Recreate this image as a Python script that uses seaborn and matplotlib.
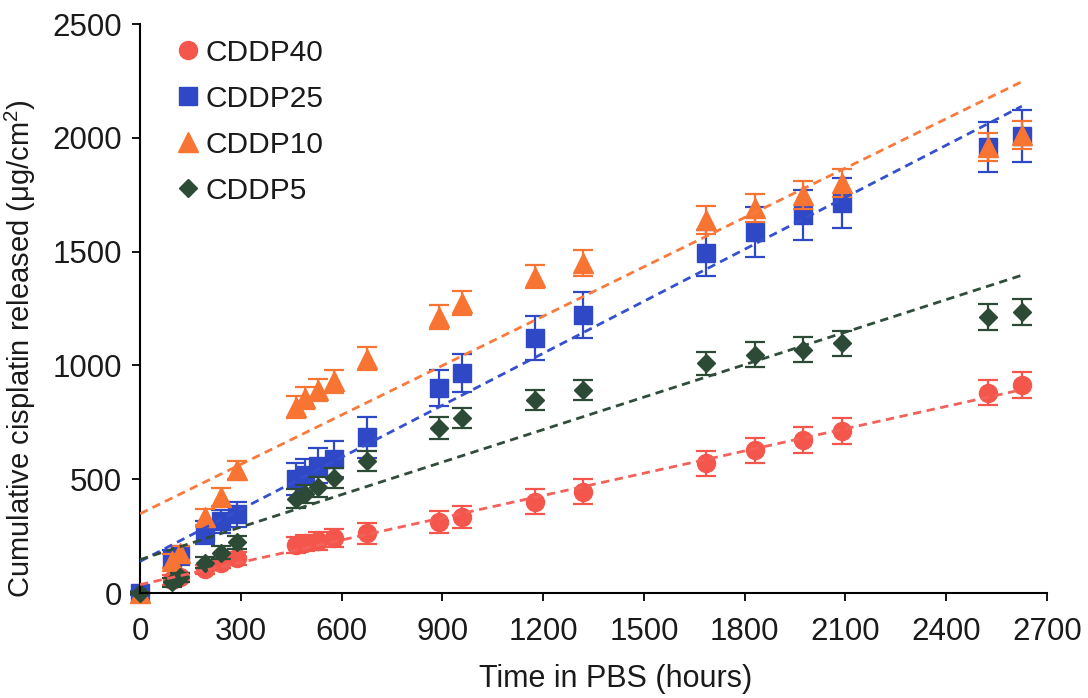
import numpy as np
import matplotlib
matplotlib.use('Agg')
import matplotlib.pyplot as plt
import seaborn as sns

# data
times = [0, 96, 120, 192, 240, 288, 465, 490, 530, 578, 675, 890, 960,
         1175, 1320, 1685, 1830, 1975, 2090, 2525, 2625]

cddp40 = [0, 57, 70, 105, 134, 152, 210, 218, 230, 242, 262, 312, 334,
          400, 444, 571, 628, 672, 712, 879, 914]
cddp25 = [0, 150, 165, 265, 315, 345, 500, 520, 560, 590, 685, 900, 967,
          1120, 1221, 1494, 1586, 1661, 1713, 1960, 2008]
cddp10 = [0, 140, 175, 334, 422, 540, 817, 857, 892, 930, 1030, 1213, 1275,
          1389, 1450, 1639, 1692, 1749, 1802, 1960, 2013]
cddp5 = [0, 48, 70, 134, 178, 222, 415, 435, 466, 505, 580, 725, 769,
         848, 892, 1010, 1046, 1068, 1098, 1213, 1235]

err40 = [5, 20, 20, 20, 25, 30, 35, 35, 40, 40, 45, 50, 50, 55, 55, 55, 55, 58, 58, 55, 55]
err25 = [10, 40, 40, 50, 50, 55, 70, 70, 75, 80, 90, 80, 85, 95, 100, 100, 110, 110, 110, 110, 115]
err10 = [5, 30, 30, 35, 40, 40, 50, 50, 50, 50, 50, 52, 52, 50, 55, 62, 62, 62, 62, 60, 60]
err5 = [5, 20, 20, 25, 30, 30, 40, 40, 45, 45, 45, 50, 45, 45, 45, 50, 55, 55, 55, 58, 58]

labels = ['CDDP40', 'CDDP25', 'CDDP10', 'CDDP5']
xticks = list(range(0, 2701, 300))
yticks = list(range(0, 2501, 500))

sns.set_style('ticks')
plt.rcParams['font.family'] = ['Liberation Sans', 'DejaVu Sans']
plt.rcParams['mathtext.default'] = 'regular'

fig = plt.figure(figsize=(10.88, 6.98), dpi=100)
ax = fig.add_axes([0.1287, 0.1504, 0.8336, 0.8152])

series = [
    (cddp40, err40, 'o', 13, '#F5564C', '#F2625A'),
    (cddp25, err25, 's', 13, '#2E48C6', '#3550CC'),
    (cddp10, err10, '^', 14, '#F87432', '#F87A3C'),
    (cddp5, err5, 'D', 9.5, '#2C4A35', '#2F4D3A'),
]

handles = []
for (vals, err, mk, ms, col, lcol), lab in zip(series, labels):
    ax.errorbar(times, vals, yerr=err, fmt='none', ecolor=col, elinewidth=1.6,
                capsize=7, capthick=1.6, zorder=2, clip_on=False)
    h, = ax.plot(times, vals, ls='none', marker=mk, ms=ms, color=col,
                 mec=col, label=lab, zorder=2, clip_on=False)
    handles.append(h)
    # linear trend line, dashed
    sns.regplot(x=np.array(times), y=np.array(vals), ax=ax, scatter=False,
                ci=None, truncate=True, color=lcol,
                line_kws=dict(ls='--', lw=2, dashes=(3, 2), zorder=3))

ax.set_xlim(0, 2700)
ax.set_ylim(0, 2500)
ax.set_xticks(xticks)
ax.set_yticks(yticks)
ax.tick_params(axis='both', labelsize=22.5, length=6, width=1.3, direction='out',
               color='black', labelcolor='#1a1a1a')
ax.tick_params(axis='x', pad=11)
ax.tick_params(axis='y', pad=7)
sns.despine(ax=ax)
for s in ['left', 'bottom']:
    ax.spines[s].set_linewidth(1.5)
    ax.spines[s].set_color('black')

ax.set_xlabel('Time in PBS (hours)', fontsize=22, color='#1a1a1a')
ax.xaxis.set_label_coords(0.524, -0.125)
ax.set_ylabel('Cumulative cisplatin released (μg/cm$^{2}$)', fontsize=21,
              color='#1a1a1a')
ax.yaxis.set_label_coords(-0.113, 0.43)

leg = ax.legend(handles=handles, loc='upper left', bbox_to_anchor=(0.025, 0.995),
                frameon=False, fontsize=21.5, handlelength=0.9,
                handletextpad=0.12, labelspacing=0.6, borderaxespad=0)
for t in leg.get_texts():
    t.set_color('#1a1a1a')

fig.savefig('out.png', dpi=100)
